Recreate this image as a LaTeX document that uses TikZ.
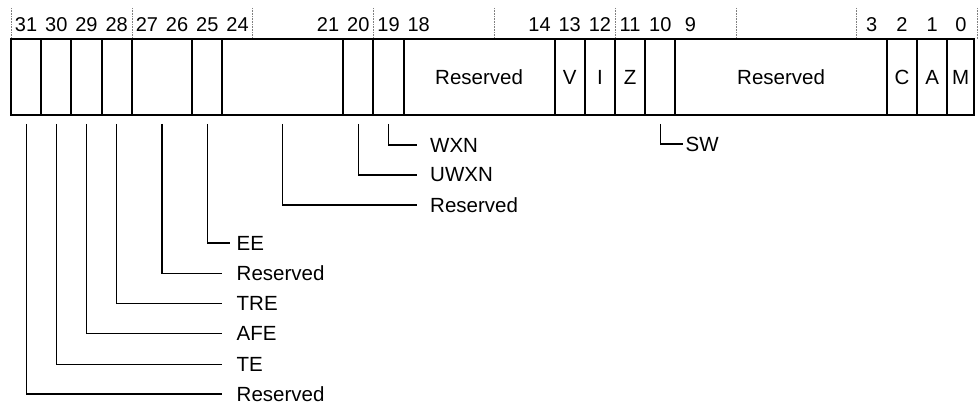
\documentclass[tikz,border=0pt]{standalone}
\usepackage{fontspec}
\setmainfont{Liberation Sans}
\begin{document}
\begin{tikzpicture}[x=1pt,y=-1pt,
  field/.style={draw=black,line width=1.9pt,minimum height=76pt,inner sep=0pt,
     font=\fontsize{20.5}{24}\selectfont},
  num/.style={anchor=base,inner sep=0pt,font=\fontsize{20}{24}\selectfont},
  lab/.style={anchor=west,inner sep=0pt,font=\fontsize{20.5}{24}\selectfont},
  leader/.style={draw=black,line width=1.1pt},
  nibble/.style={draw=gray,line width=0.6pt,densely dotted}]
\useasboundingbox (0,0) rectangle (979,403);
% nibble ticks
\foreach \x in {11,131.8,252.6,373.4,494.2,615,735.8,856.6,977.4}
  \draw[nibble] (\x,8) -- (\x,39);
% fields
\node[field,minimum width=30.2pt] (f31) at (26.1,77) {};
\node[field,minimum width=30.2pt] (f30) at (56.3,77) {};
\node[field,minimum width=30.2pt] (f29) at (86.5,77) {};
\node[field,minimum width=30.2pt] (f28) at (116.7,77) {};
\node[field,minimum width=60.4pt] (f2726) at (162,77) {};
\node[field,minimum width=30.2pt] (f25) at (207.3,77) {};
\node[field,minimum width=120.8pt] (f2421) at (282.8,77) {};
\node[field,minimum width=30.2pt] (f20) at (358.3,77) {};
\node[field,minimum width=30.2pt] (f19) at (388.5,77) {};
\node[field,minimum width=151pt] (f1814) at (479.1,77) {Reserved};
\node[field,minimum width=30.2pt] (f13) at (569.7,77) {V};
\node[field,minimum width=30.2pt] (f12) at (599.9,77) {I};
\node[field,minimum width=30.2pt] (f11) at (630.1,77) {Z};
\node[field,minimum width=30.2pt] (f10) at (660.3,77) {};
\node[field,minimum width=211.4pt] (f93) at (781.1,77) {Reserved};
\node[field,minimum width=30.2pt] (f2) at (901.9,77) {C};
\node[field,minimum width=30.2pt] (f1) at (932.1,77) {A};
\node[field,minimum width=26.8pt] (f0) at (960.6,77) {M};
% bit numbers
\node[num] (n31) at (26.1,31.7) {31};
\node[num] (n30) at (56.3,31.7) {30};
\node[num] (n29) at (86.5,31.7) {29};
\node[num] (n28) at (116.7,31.7) {28};
\node[num] (n27) at (146.9,31.7) {27};
\node[num] (n26) at (177.1,31.7) {26};
\node[num] (n25) at (207.3,31.7) {25};
\node[num] (n24) at (237.5,31.7) {24};
\node[num] (n21) at (328.1,31.7) {21};
\node[num] (n20) at (358.3,31.7) {20};
\node[num] (n19) at (388.5,31.7) {19};
\node[num] (n18) at (418.7,31.7) {18};
\node[num] (n14) at (539.5,31.7) {14};
\node[num] (n13) at (569.7,31.7) {13};
\node[num] (n12) at (599.9,31.7) {12};
\node[num] (n11) at (630.1,31.7) {11};
\node[num] (n10) at (660.3,31.7) {10};
\node[num] (n9) at (690.5,31.7) {9};
\node[num] (n3) at (871.7,31.7) {3};
\node[num] (n2) at (901.9,31.7) {2};
\node[num] (n1) at (932.1,31.7) {1};
\node[num] (n0) at (961,31.7) {0};
% labels
\node[lab] (lwxn) at (430,145) {WXN};
\node[lab] (luwxn) at (430,175) {UWXN};
\node[lab] (lres1) at (430,205) {Reserved};
\node[lab] (lsw) at (685.5,144) {SW};
\node[lab] (lee) at (236.5,243) {EE};
\node[lab] (lres2) at (236.5,273.3) {Reserved};
\node[lab] (ltre) at (236.5,303.4) {TRE};
\node[lab] (lafe) at (236.5,333.8) {AFE};
\node[lab] (lte) at (236.5,364.1) {TE};
\node[lab] (lres3) at (236.5,394) {Reserved};
% leaders
\draw[leader] ([yshift=-8pt]f19.south) |- ([xshift=-13pt]lwxn.west);
\draw[leader] ([yshift=-8pt]f20.south) |- ([xshift=-13pt]luwxn.west);
\draw[leader] ([yshift=-8pt]f2421.south) |- ([xshift=-13pt]lres1.west);
\draw[leader] ([yshift=-8pt]f10.south) |- ([xshift=-2.5pt]lsw.west);
\draw[leader] ([yshift=-8pt]f25.south) |- ([xshift=-7pt]lee.west);
\draw[leader] ([yshift=-8pt]f2726.south) |- ([xshift=-14.5pt]lres2.west);
\draw[leader] ([yshift=-8pt]f28.south) |- ([xshift=-14.5pt]ltre.west);
\draw[leader] ([yshift=-8pt]f29.south) |- ([xshift=-14.5pt]lafe.west);
\draw[leader] ([yshift=-8pt]f30.south) |- ([xshift=-14.5pt]lte.west);
\draw[leader] ([yshift=-8pt]f31.south) |- ([xshift=-14.5pt]lres3.west);
\end{tikzpicture}
\end{document}
